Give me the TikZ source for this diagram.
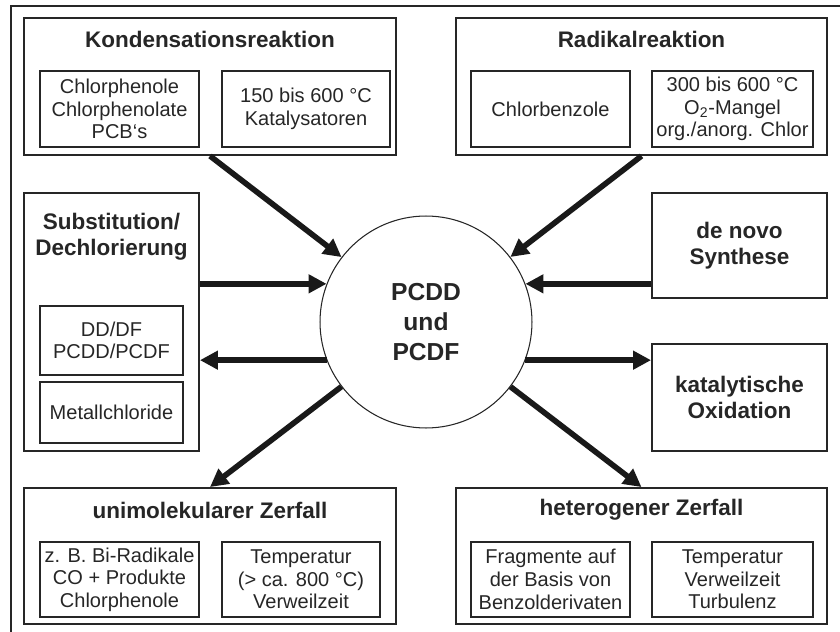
\documentclass[tikz,border=0pt]{standalone}
\usepackage{fontspec}
\setmainfont{Liberation Sans}
\usetikzlibrary{arrows.meta}

\begin{document}
\begin{tikzpicture}[
    x=0.02cm, y=-0.02cm,
    every node/.style={text=black!85},
    group/.style={rectangle,draw=black!85,line width=1.1pt,inner sep=0pt},
    item/.style={rectangle,draw=black!85,line width=0.9pt,inner sep=0pt,align=center,font=\fontsize{11.4}{12.9}\selectfont},
    title/.style={align=center,font=\bfseries\fontsize{12.8}{14.6}\selectfont},
    process/.style={rectangle,draw=black!85,line width=1.1pt,inner sep=0pt,align=center,minimum width=3.5cm,font=\bfseries\fontsize{12.8}{14.6}\selectfont},
    hub/.style={circle,draw=black!85,line width=0.6pt,inner sep=0pt,minimum size=4.24cm,align=center,font=\bfseries\fontsize{14}{17}\selectfont},
    flow/.style={draw=black!90,line width=3.2pt,-{Triangle[length=0.36cm,width=0.36cm]}}
    ]
    \useasboundingbox (0,0) rectangle (840,632);
    \draw [line width=0.6pt,draw=black!85] (11,632) -- (11,6) -- (840,6);

    \node (kond) at (210,86.5) [group,minimum width=7.44cm,minimum height=2.74cm] {};
    \node (kondtitle) at (210,39) [title] {Kondensationsreaktion};
    \node (kondstoff) at (119.5,109) [item,minimum width=3.18cm,minimum height=1.52cm] {Chlorphenole\\Chlorphenolate\\PCB‘s};
    \node (kondbed) at (306,109) [item,minimum width=3.36cm,minimum height=1.52cm] {150 bis 600 °C\\Katalysatoren};

    \node (radi) at (641.5,86.5) [group,minimum width=7.42cm,minimum height=2.74cm] {};
    \node (radititle) at (641.5,39) [title] {Radikalreaktion};
    \node (radistoff) at (550.5,109) [item,minimum width=3.18cm,minimum height=1.52cm] {Chlorbenzole};
    \node (radibed) at (732.5,109) [item,minimum width=3.22cm,minimum height=1.52cm] {300 bis 600 °C\\O\textsubscript{2}-Mangel\\org./anorg. Chlor};

    \node (subst) at (111.5,322) [group,minimum width=3.5cm,minimum height=5.16cm] {};
    \node (substtitle) at (111.5,237) [title] {Substitution/\\Dechlorierung};
    \node (substdd) at (111.5,340.5) [item,minimum width=2.86cm,minimum height=1.38cm] {DD/DF\\PCDD/PCDF};
    \node (substmetall) at (111.5,412.5) [item,minimum width=2.86cm,minimum height=1.22cm] {Metallchloride};

    \node (denovo) at (739.5,245.5) [process,minimum height=2.1cm] {de novo\\Synthese};
    \node (oxid) at (739.5,397.5) [process,minimum height=2.14cm] {katalytische\\Oxidation};

    \node (pcdd) at (426,322) [hub] {PCDD\\und\\PCDF};

    \node (uni) at (210,556) [group,minimum width=7.44cm,minimum height=2.72cm] {};
    \node (unititle) at (210,510) [title] {unimolekularer Zerfall};
    \node (unistoff) at (119.5,579.5) [item,minimum width=3.18cm,minimum height=1.5cm] {z. B. Bi-Radikale\\CO + Produkte\\Chlorphenole};
    \node (unibed) at (301,579.5) [item,minimum width=3.16cm,minimum height=1.5cm] {Temperatur\\(> ca. 800 °C)\\Verweilzeit};

    \node (het) at (641.5,556) [group,minimum width=7.42cm,minimum height=2.72cm] {};
    \node (hettitle) at (641.5,510) [title] {heterogener Zerfall};
    \node (hetstoff) at (550.5,579.5) [item,minimum width=3.18cm,minimum height=1.5cm] {Fragmente auf\\der Basis von\\Benzolderivaten};
    \node (hetbed) at (732.5,579.5) [item,minimum width=3.22cm,minimum height=1.5cm] {Temperatur\\Verweilzeit\\Turbulenz};

    \draw [flow] (kond.south) to (pcdd);
    \draw [flow] (radi.south) to (pcdd);
    \draw [flow] (subst.east |- pcdd.159) to (pcdd.159);
    \draw [flow] (pcdd.201) to (subst.east |- pcdd.201);
    \draw [flow] (denovo.west |- pcdd.21) to (pcdd.21);
    \draw [flow] (pcdd.-21) to (oxid.west |- pcdd.-21);
    \draw [flow] (pcdd) to (uni.north);
    \draw [flow] (pcdd) to (het.north);
\end{tikzpicture}
\end{document}
